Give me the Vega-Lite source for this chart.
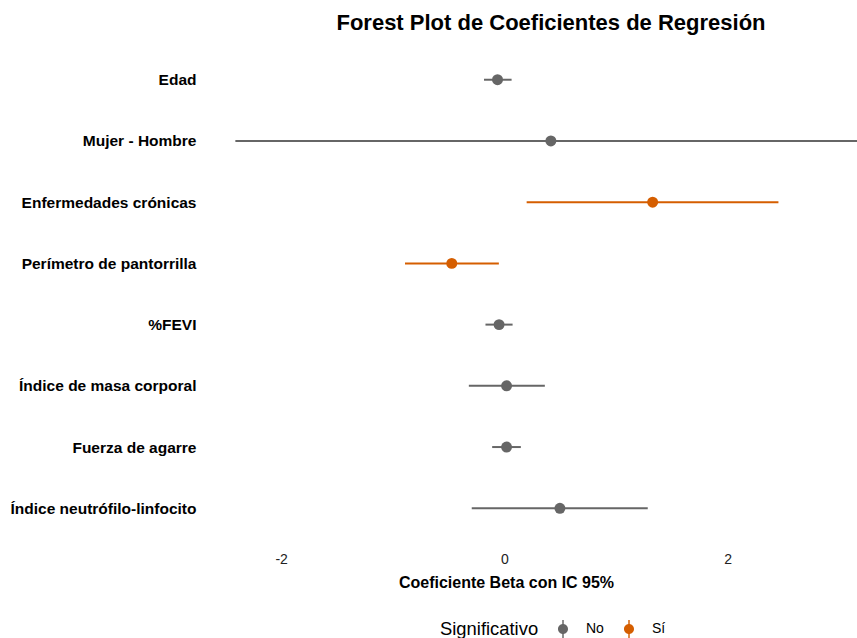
{
  "$schema": "https://vega.github.io/schema/vega-lite/v6.json",
  "autosize": {"type": "none"},
  "padding": {"left": 203, "top": 43, "right": 0, "bottom": 93},
  "width": 654,
  "height": 502,
  "background": "white",
  "title": {
    "text": "Forest Plot de Coeficientes de Regresión",
    "font": "Liberation Sans",
    "fontSize": 22,
    "fontWeight": "bold",
    "color": "#000000",
    "anchor": "middle",
    "frame": "group",
    "dx": 21,
    "dy": 23,
    "baseline": "alphabetic",
    "offset": 14
  },
  "data": {
    "values": [
      {"variable": "Edad", "estimate": -0.061, "lower": -0.182, "upper": 0.065, "sig": "No"},
      {"variable": "Mujer - Hombre", "estimate": 0.417, "lower": -2.41, "upper": 3.39, "sig": "No"},
      {"variable": "Enfermedades crónicas", "estimate": 1.329, "lower": 0.20, "upper": 2.456, "sig": "Sí"},
      {"variable": "Perímetro de pantorrilla", "estimate": -0.471, "lower": -0.89, "upper": -0.049, "sig": "Sí"},
      {"variable": "%FEVI", "estimate": -0.047, "lower": -0.169, "upper": 0.074, "sig": "No"},
      {"variable": "Índice de masa corporal", "estimate": 0.02, "lower": -0.318, "upper": 0.363, "sig": "No"},
      {"variable": "Fuerza de agarre", "estimate": 0.02, "lower": -0.109, "upper": 0.148, "sig": "No"},
      {"variable": "Índice neutrófilo-linfocito", "estimate": 0.498, "lower": -0.292, "upper": 1.285, "sig": "No"}
    ]
  },
  "encoding": {
    "y": {
      "field": "variable",
      "type": "nominal",
      "sort": null,
      "scale": {"type": "point", "padding": 0.6},
      "axis": {
        "title": null,
        "domain": false,
        "ticks": false,
        "grid": false,
        "labelFont": "Liberation Sans",
        "labelFontSize": 15.5,
        "labelFontWeight": "bold",
        "labelColor": "#000000",
        "labelPadding": 7,
        "labelLimit": 400
      }
    }
  },
  "layer": [
    {
      "mark": {"type": "rule", "strokeWidth": 2, "clip": true},
      "encoding": {
        "x": {
          "field": "lower",
          "type": "quantitative",
          "scale": {"domain": [-2.70, 3.16], "nice": false, "zero": false},
          "axis": {
            "title": "Coeficiente Beta con IC 95%",
            "values": [-2, 0, 2],
            "labelExpr": "datum.value",
            "domain": false,
            "ticks": false,
            "grid": false,
            "labelFont": "Liberation Sans",
            "labelFontSize": 14,
            "labelColor": "#222222",
            "labelPadding": 7,
            "titleFont": "Liberation Sans",
            "titleFontSize": 16,
            "titleFontWeight": "bold",
            "titleColor": "#000000",
            "titleX": 303,
            "titleY": 42,
            "titleAlign": "center",
            "titleBaseline": "alphabetic"
          }
        },
        "x2": {"field": "upper"},
        "color": {
          "field": "sig",
          "type": "nominal",
          "scale": {"domain": ["No", "Sí"], "range": ["#666666", "#D55E00"]},
          "legend": {
            "title": "Significativo",
            "orient": "none",
            "direction": "horizontal",
            "legendX": 237,
            "legendY": 577,
            "titleOrient": "left",
            "titleFont": "Liberation Sans",
            "titleFontSize": 18.4,
            "titleFontWeight": "normal",
            "titleColor": "#000000",
            "titlePadding": 15,
            "titleBaseline": "middle",
            "labelFont": "Liberation Sans",
            "labelFontSize": 14,
            "labelColor": "#000000",
            "labelOffset": 14,
            "columnPadding": 16,
            "symbolType": "M-0.08,-1L0.08,-1L0.08,1L-0.08,1ZM0.556,0A0.556,0.556,0,1,1,-0.556,0A0.556,0.556,0,1,1,0.556,0Z",
            "symbolSize": 324,
            "symbolStrokeWidth": 0,
            "symbolOpacity": 1
          }
        }
      }
    },
    {
      "mark": {"type": "point", "filled": true, "size": 120, "opacity": 1, "shape": "circle", "clip": true},
      "encoding": {
        "x": {"field": "estimate", "type": "quantitative"},
        "color": {"field": "sig", "type": "nominal"}
      }
    },
    {
      "mark": {"type": "rule", "color": "#000000", "strokeWidth": 2, "strokeDash": [5, 5]},
      "encoding": {
        "x": {"datum": 0}
      }
    }
  ],
  "config": {
    "view": {"stroke": null},
    "axis": {"grid": false}
  }
}
